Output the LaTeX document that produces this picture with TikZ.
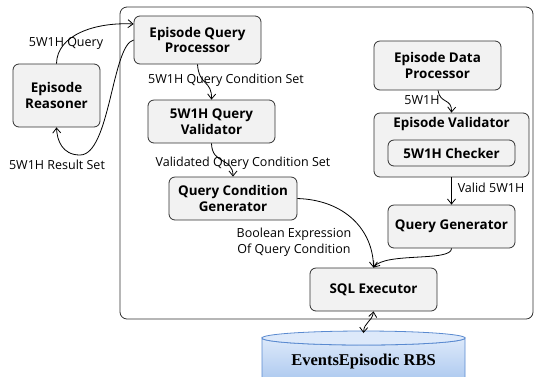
\documentclass[tikz,border=0pt]{standalone}
\usepackage{fontspec}
\setmainfont{Open Sans}
\newfontfamily\dbfont{Liberation Serif}
\usetikzlibrary{arrows.meta}
\definecolor{boxfill}{HTML}{F2F2F2}
\definecolor{boxline}{HTML}{303030}
\definecolor{cyltop}{HTML}{DDE9FA}
\definecolor{cylbot}{HTML}{A8C6EE}
\definecolor{cylline}{HTML}{5A8AD0}
\tikzset{
  box/.style={draw=boxline, fill=boxfill, rounded corners=6pt, line width=0.8pt,
    align=center, font=\fontsize{13.4}{15.5}\selectfont\bfseries, inner sep=0pt},
  lbl/.style={font=\fontsize{12.5}{14}\selectfont, inner sep=0pt, align=center},
  arr/.style={-{Straight Barb[length=5pt,width=8pt]}, line width=0.8pt, black},
}
\begin{document}
\begin{tikzpicture}[x=1pt,y=-1pt]
\useasboundingbox (0,0) rectangle (535,376);
% outer container
\draw[boxline, line width=0.8pt, rounded corners=7pt] (120,7) rectangle (533,319);
% database cylinder
\shade[top color=cyltop, bottom color=cylbot, draw=cylline, line width=0.8pt]
  (262,338) -- (262,385) -- (465,385) -- (465,338) arc[start angle=0,end angle=-180,x radius=101.5pt,y radius=7pt] -- cycle;
\draw[cylline, line width=0.8pt, fill=cyltop] (363.5,338) ellipse[x radius=101.5pt, y radius=7pt];
\node[font=\dbfont\fontsize{16.5}{18}\selectfont\bfseries, inner sep=0pt] (db) at (363.5,362) {EventsEpisodic RBS};
\coordinate (dbtop) at (363.5,333);
% boxes
\node[box, minimum width=127pt, minimum height=48pt] (eqp) at (197.5,40) {Episode Query\\Processor};
\node[box, minimum width=87pt, minimum height=63pt] (er) at (56.5,95.5) {Episode\\Reasoner};
\node[box, minimum width=127pt, minimum height=43pt] (qv) at (211.5,121.5) {5W1H Query\\Validator};
\node[box, minimum width=128pt, minimum height=43pt] (qcg) at (233,198.5) {Query Condition\\Generator};
\node[box, minimum width=127pt, minimum height=43pt] (sql) at (373.5,289.5) {SQL Executor};
\node[box, minimum width=127pt, minimum height=43pt] (qg) at (451.5,226.5) {Query Generator};
\node[box, minimum width=127pt, minimum height=49pt] (edp) at (437.5,65.5) {Episode Data\\Processor};
\node[box, minimum width=155pt, minimum height=64pt] (ev) at (451.5,145) {};
\node[font=\fontsize{13.4}{15.5}\selectfont\bfseries, inner sep=0pt] (evt) at (451.5,124) {Episode Validator};
\node[box, minimum width=127pt, minimum height=26pt] (chk) at (451.5,153) {5W1H Checker};
% labels
\node[lbl] (l1) at (66,43) {5W1H Query};
\node[lbl] (l2) at (57,165) {5W1H Result Set};
\node[lbl] (l3) at (226,80) {5W1H Query Condition Set};
\node[lbl] (l4) at (243,163) {Validated Query Condition Set};
\node[lbl, font=\fontsize{12.5}{16}\selectfont] (l5) at (294,242) {Boolean Expression\\Of Query Condition};
\node[lbl] (l6) at (422,100) {5W1H};
\node[lbl] (l7) at (491,188) {Valid 5W1H};
% connectors
\draw[arr] (er.north) .. controls (57,35) and (95,22) .. ([yshift=16pt]eqp.west);
\draw[arr] (eqp.west) .. controls (112,45) and (110,155) .. (80,155) .. controls (62,155) and (57,140) .. (er.south);
\draw[arr] (eqp.south) .. controls (199,86) and (212,80) .. (qv.north);
\draw[arr] (qv.south) .. controls (212,165) and (233,157) .. (qcg.north);
\draw[arr] ([xshift=0.5pt]edp.south) .. controls (440,104) and (452,98) .. (ev.north);
\draw[arr] (ev.south) -- (qg.north);
\draw[arr] (qcg.east) .. controls (345,200) and (373,230) .. (sql.north);
\draw[arr] (qg.south) .. controls (452,262) and (385,252) .. (sql.north);
\draw[{Straight Barb[length=5pt,width=8pt]}-{Straight Barb[length=5pt,width=8pt]}, line width=0.8pt]
  (sql.south) .. controls (372,322) and (364,322) .. (dbtop);
\end{tikzpicture}
\end{document}
